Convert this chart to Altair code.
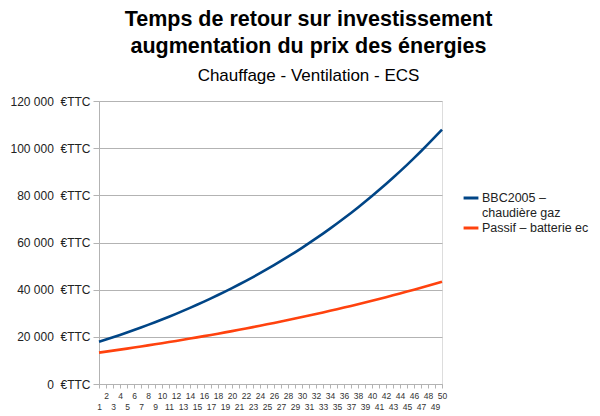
import altair as alt
import pandas as pd

years = list(range(1, 51))
bbc = [17900, 18850, 19820, 20820, 21840, 22890, 23960, 25060, 26190, 27350,
       28530, 29750, 31000, 32280, 33590, 34930, 36310, 37730, 39180, 40660,
       42190, 43750, 45350, 46990, 48680, 50410, 52180, 53990, 55850, 57760,
       59720, 61720, 63780, 65890, 68050, 70270, 72540, 74870, 77260, 79720,
       82230, 84800, 87450, 90150, 92930, 95780, 98700, 101690, 104760, 107900]
passif = [13300, 13720, 14140, 14570, 15010, 15460, 15910, 16370, 16830, 17300,
          17780, 18270, 18760, 19260, 19770, 20290, 20810, 21340, 21880, 22430,
          22990, 23550, 24120, 24710, 25300, 25900, 26500, 27120, 27750, 28390,
          29030, 29690, 30360, 31030, 31720, 32410, 33120, 33840, 34570, 35310,
          36060, 36820, 37600, 38380, 39180, 39990, 40810, 41640, 42490, 43350]
series_names = ["BBC2005 – chaudière gaz", "Passif – batterie ec"]
colors = ["#004586", "#ff420e"]
y_ticks = [0, 20000, 40000, 60000, 80000, 100000, 120000]

df = pd.DataFrame({
    "annee": years * 2,
    "cout": bbc + passif,
    "serie": [series_names[0]] * len(years) + [series_names[1]] * len(years),
})

font = "Liberation Sans"

chart = alt.Chart(df).mark_line(strokeWidth=2.6).encode(
    x=alt.X("annee:Q",
            scale=alt.Scale(domain=[1, 50], nice=False, zero=False),
            axis=alt.Axis(values=years, title=None, grid=False,
                          labelOverlap=False, labelFlush=False,
                          labelFontSize=8.5, labelColor="#333333", labelFont=font,
                          labelExpr="datum.value % 2 == 0 ? datum.label : ['', datum.label]",
                          labelLineHeight=11, labelBaseline="top", labelPadding=3,
                          tickSize=4, tickColor="#b3b3b3", domainColor="#b3b3b3")),
    y=alt.Y("cout:Q",
            scale=alt.Scale(domain=[0, 120000], nice=False),
            axis=alt.Axis(values=y_ticks, title=None,
                          labelExpr="replace(format(datum.value, ',d'), ',', '\u00a0') + '\u00a0\u00a0€TTC'",
                          labelFontSize=12, labelColor="#222222", labelFont=font,
                          labelPadding=3, tickSize=6, tickColor="#b3b3b3",
                          domainColor="#b3b3b3", gridColor="#b3b3b3")),
    color=alt.Color("serie:N",
                    scale=alt.Scale(domain=series_names, range=colors),
                    legend=alt.Legend(title=None, orient="none", legendX=363, legendY=88,
                                      symbolType="stroke", symbolStrokeWidth=3,
                                      symbolSize=220, labelOffset=2,
                                      labelFontSize=12.5, labelFont=font,
                                      labelColor="#222222",
                                      labelExpr="datum.label == 'BBC2005 – chaudière gaz' ? ['BBC2005 –', 'chaudière gaz'] : datum.label",
                                      labelLimit=200, rowPadding=0)),
).properties(
    width=343,
    height=283,
    autosize=alt.AutoSizeParams(type="none"),
    padding={"left": 99, "top": 101, "right": 158, "bottom": 32},
    title=alt.TitleParams(
        text=["Temps de retour sur investissement", "augmentation du prix des énergies"],
        subtitle="Chauffage - Ventilation - ECS",
        fontSize=21.5, fontWeight="bold", font=font, color="#000000",
        lineHeight=27, subtitleFontSize=17, subtitleFont=font,
        subtitleColor="#000000", subtitlePadding=11,
        anchor="middle", dx=38, offset=11,
    ),
).configure_view(stroke="#b3b3b3").configure(background="white")

chart.save("out.html", embed_options={"renderer": "svg", "actions": False})
